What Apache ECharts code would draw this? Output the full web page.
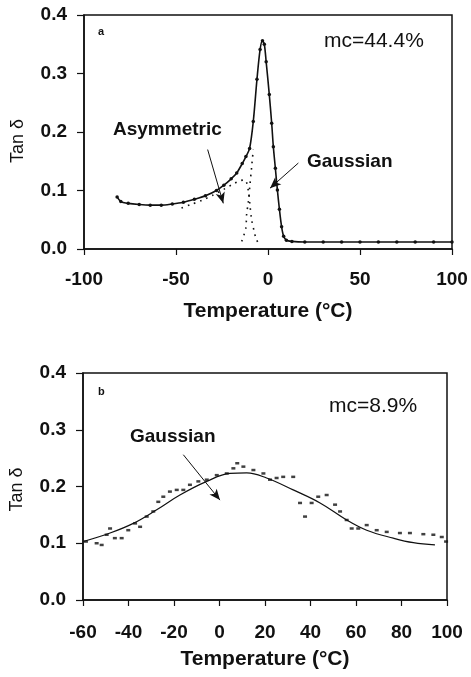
<!DOCTYPE html>
<html>
<head>
<meta charset="utf-8">
<script src="https://cdn.jsdelivr.net/npm/echarts@6/dist/echarts.min.js"></script>
<style>
  html, body { margin: 0; padding: 0; background: #fff; }
  #chart { width: 471px; height: 677px; }
</style>
</head>
<body>
<div id="chart"></div>
<script>
// panel a: mc = 44.4%, measured tan delta (solid, dotted points) and the two fitted components
const aMeasured = [
  [-82, 0.089], [-80, 0.081], [-76, 0.078], [-70, 0.076], [-64, 0.075], [-58, 0.075],
  [-52, 0.077], [-46, 0.080], [-40, 0.085], [-34, 0.091], [-28, 0.100], [-24, 0.109],
  [-20, 0.120], [-17, 0.130], [-14, 0.146], [-12, 0.158], [-10, 0.172], [-8, 0.218],
  [-6, 0.290], [-4.3, 0.341], [-3, 0.356], [-2, 0.350], [-1, 0.320], [0.7, 0.264],
  [2, 0.215], [2.9, 0.175], [4, 0.138], [5.1, 0.101], [6.2, 0.068], [7.4, 0.038],
  [8.5, 0.022], [10, 0.015], [13, 0.013], [20, 0.012], [30, 0.012], [40, 0.012],
  [50, 0.012], [60, 0.012], [70, 0.012], [80, 0.012], [90, 0.012], [100, 0.012]
]
const aAsymFit = [
  [-47, 0.070], [-42, 0.076], [-36, 0.083], [-30, 0.092], [-24, 0.102], [-19, 0.111],
  [-15, 0.117], [-12.5, 0.118], [-10.7, 0.100], [-9.8, 0.075], [-8.9, 0.050],
  [-7.5, 0.030], [-6.5, 0.018], [-4.3, 0.004]
]
const aGaussFit = [
  [-14.3, 0.013], [-12.1, 0.035], [-11.6, 0.060], [-10.7, 0.080], [-9.8, 0.110],
  [-8.9, 0.140], [-8, 0.170]
]

// panel b: mc = 8.9%, scattered measurements and gaussian fit
const bMeasured = [
  [-58.7, 0.103], [-54, 0.100], [-51.8, 0.097], [-49.6, 0.115], [-48.1, 0.126],
  [-46, 0.109], [-43, 0.109], [-40.1, 0.123], [-37.1, 0.135], [-34.9, 0.129],
  [-32, 0.147], [-29.1, 0.156], [-26.9, 0.173], [-24.7, 0.182], [-21.8, 0.191],
  [-18.8, 0.194], [-15.9, 0.194], [-13, 0.203], [-9.3, 0.209], [-5.6, 0.212],
  [-1.2, 0.220], [3.2, 0.223], [6.1, 0.232], [7.8, 0.241], [10.5, 0.235],
  [14.9, 0.229], [19.3, 0.223], [22.2, 0.212], [25.1, 0.215], [28, 0.217],
  [32.4, 0.217], [35.4, 0.171], [37.6, 0.147], [40.5, 0.171], [43.4, 0.182],
  [47.1, 0.185], [50.8, 0.168], [53, 0.156], [55.9, 0.141], [58.1, 0.126],
  [61, 0.126], [64.7, 0.132], [69.1, 0.123], [73.5, 0.120], [79.3, 0.118],
  [83.7, 0.118], [89.6, 0.116], [94, 0.115], [97.7, 0.111], [99.6, 0.103]
]
const bGaussFit = [
  [-59.9, 0.103], [-48.1, 0.118], [-37.9, 0.135], [-27.6, 0.159], [-17.4, 0.185],
  [-5.6, 0.209], [4.6, 0.223], [12, 0.224], [20.7, 0.215], [32.4, 0.194],
  [44.2, 0.171], [55.9, 0.141], [64.7, 0.123], [76.4, 0.109], [85.2, 0.101],
  [94.7, 0.097]
]

// annotation arrows, [start, end] in data units
const aAsymArrow = [[-32.8, 0.170], [-24.3, 0.078]]
const aGaussArrow = [[16.5, 0.147], [1.1, 0.104]]
const bGaussArrow = [[-15.9, 0.256], [0.2, 0.176]]

const font = 'Liberation Sans, Arial, sans-serif'
const black = '#111'

function xAxisFor(gridIndex, min, max, interval, nameGap, labelMargin) {
  return {
    gridIndex, type: 'value', min, max, interval,
    name: 'Temperature (°C)', nameLocation: 'middle', nameGap,
    nameTextStyle: { fontFamily: font, fontSize: 21, fontWeight: 'bold', color: black },
    axisLine: { show: true, onZero: false, lineStyle: { color: black, width: 1.5 } },
    axisTick: { show: true, inside: false, length: 6, lineStyle: { color: black, width: 1.2 } },
    axisLabel: { fontFamily: font, fontSize: 19, fontWeight: 'bold', color: black, margin: labelMargin },
    splitLine: { show: false }
  }
}

function yAxisFor(gridIndex, namePad) {
  return {
    gridIndex, type: 'value', min: 0, max: 0.4, interval: 0.1,
    name: 'Tan δ', nameLocation: 'middle', nameGap: 57, nameRotate: 90,
    nameTextStyle: { fontFamily: font, fontSize: 18, color: black, padding: namePad },
    axisLine: { show: true, onZero: false, lineStyle: { color: black, width: 1.5 } },
    axisTick: { show: true, inside: false, length: 7, lineStyle: { color: black, width: 1.2 } },
    axisLabel: {
      fontFamily: font, fontSize: 19, fontWeight: 'bold', color: black, margin: 17,
      formatter: v => v.toFixed(1)
    },
    splitLine: { show: false }
  }
}

function arrow(pair) {
  return {
    silent: true,
    symbol: ['none', 'arrow'],
    symbolSize: [7, 11],
    label: { show: false },
    lineStyle: { color: black, width: 1, type: 'solid' },
    data: [[{ coord: pair[0] }, { coord: pair[1] }]]
  }
}

function txt(left, top, text, size, weight) {
  return {
    type: 'text', left, top,
    style: { text, fontFamily: font, fontSize: size, fontWeight: weight || 'normal', fill: black }
  }
}

const chart = echarts.init(document.getElementById('chart'), null, { renderer: 'canvas' })

chart.setOption({
  animation: false,
  backgroundColor: '#fff',
  grid: [
    { left: 84, top: 15, width: 368, height: 234, show: true, borderColor: black, borderWidth: 1.5 },
    { left: 83, top: 373, width: 364, height: 227, show: true, borderColor: black, borderWidth: 1.5 }
  ],
  xAxis: [
    xAxisFor(0, -100, 100, 50, 52, 21),
    xAxisFor(1, -60, 100, 20, 49, 23)
  ],
  yAxis: [
    yAxisFor(0, [0, 18, 0, 0]),
    yAxisFor(1, [0, 6, 0, 0])
  ],
  graphic: [
    txt(98, 26, 'a', 11, 'bold'),
    txt(324, 31, 'mc=44.4%', 21),
    txt(113, 120, 'Asymmetric', 19, 'bold'),
    txt(307, 152, 'Gaussian', 19, 'bold'),
    txt(98, 386, 'b', 11, 'bold'),
    txt(329, 396, 'mc=8.9%', 21),
    txt(130, 427, 'Gaussian', 19, 'bold')
  ],
  series: [
    {
      name: 'a measured', type: 'line', xAxisIndex: 0, yAxisIndex: 0,
      data: aMeasured, smooth: 0.3,
      lineStyle: { color: black, width: 1.6 },
      itemStyle: { color: black },
      symbol: 'circle', symbolSize: 3.5, showSymbol: true,
      markLine: arrow(aAsymArrow)
    },
    {
      name: 'a asymmetric fit', type: 'line', xAxisIndex: 0, yAxisIndex: 0,
      data: aAsymFit, smooth: 0.3, showSymbol: false,
      lineStyle: { color: black, width: 1.6, type: [1.6, 5] },
      markLine: arrow(aGaussArrow)
    },
    {
      name: 'a gaussian fit', type: 'line', xAxisIndex: 0, yAxisIndex: 0,
      data: aGaussFit, smooth: 0.3, showSymbol: false,
      lineStyle: { color: black, width: 1.6, type: [1.6, 5] }
    },
    {
      name: 'b measured', type: 'scatter', xAxisIndex: 1, yAxisIndex: 1,
      data: bMeasured, symbol: 'rect', symbolSize: [4, 2.5],
      itemStyle: { color: black }
    },
    {
      name: 'b gaussian fit', type: 'line', xAxisIndex: 1, yAxisIndex: 1,
      data: bGaussFit, smooth: 0.4, showSymbol: false,
      lineStyle: { color: black, width: 1.2 },
      markLine: arrow(bGaussArrow)
    }
  ]
})
</script>
</body>
</html>
